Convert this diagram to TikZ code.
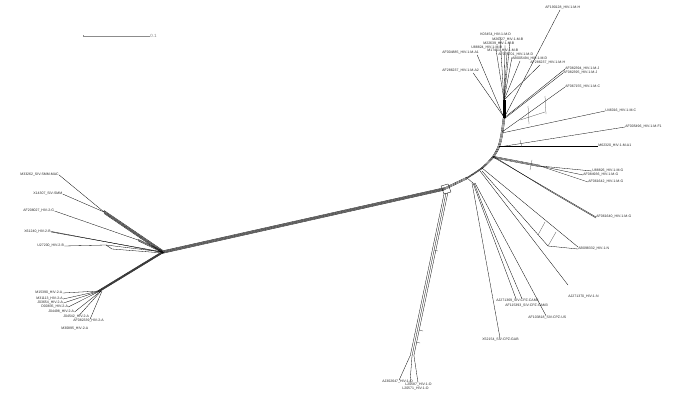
\documentclass[tikz,border=0pt]{standalone}
\usepackage{fontspec}
\setmainfont{Liberation Sans}
\begin{document}
\begin{tikzpicture}[x=1pt,y=-1pt,
  lab/.style={inner sep=0.2pt, font=\fontsize{3.5}{3.7}\selectfont, text=black!85},
  br/.style={line width=0.3pt, draw=black},
  rung/.style={line width=0.25pt, draw=black!75},
]
\useasboundingbox (0,0) rectangle (685,420);

% ---------- scale bar ----------
\coordinate (sbA) at (83,36);
\coordinate (sbB) at (150,36);
\draw[line width=0.4pt, black!45] (sbA) -- (sbB);
\draw[line width=0.4pt, black!45] ([yshift=-1pt]sbA) -- ([yshift=1pt]sbA);
\node[lab, anchor=west, text=black!50, font=\fontsize{4.5}{5}\selectfont] (sbl) at (150,36) {0.1};

% ---------- labels ----------
% left upper
\node[lab, anchor=west] (L1) at (20,175) {M33262\_SIV-SMM-MAC};
\node[lab, anchor=west] (L2) at (33,194) {X14307\_SIV-SMM};
\node[lab, anchor=west] (L3) at (23,211) {AF208027\_HIV-2-G};
\node[lab, anchor=west] (L4) at (24,232) {X61240\_HIV-2-B};
\node[lab, anchor=west] (L5) at (37,246) {U27200\_HIV-2-B};
% left lower (HIV-2 A)
\node[lab, anchor=west] (A1) at (35,293) {M15390\_HIV-2-A};
\node[lab, anchor=west] (A2) at (36,299) {M31113\_HIV-2-A};
\node[lab, anchor=west] (A3) at (37,303) {J03654\_HIV-2-A};
\node[lab, anchor=west] (A4) at (41,307) {D00835\_HIV-2-A};
\node[lab, anchor=west] (A5) at (48,312) {J04498\_HIV-2-A};
\node[lab, anchor=west] (A6) at (63,317) {J04542\_HIV-2-A};
\node[lab, anchor=west] (A7) at (73,321) {AF082339\_HIV-2-A};
\node[lab, anchor=west] (A8) at (61,329) {M30895\_HIV-2-A};
% group O
\node[lab, anchor=west] (O1) at (382,382) {AJ302647\_HIV-1-O};
\node[lab, anchor=west] (O2) at (405,384.5) {L20587\_HIV-1-O};
\node[lab, anchor=west] (O3) at (402,388.5) {L20571\_HIV-1-O};
% top (HIV-1 M)
\node[lab, anchor=west] (T0) at (545,8) {AF190128\_HIV-1-M-H};
\node[lab, anchor=west] (T1) at (480,35) {K03454\_HIV-1-M-D};
\node[lab, anchor=west] (T2) at (492,39.5) {M26727\_HIV-1-M-B};
\node[lab, anchor=west] (T3) at (483,43.5) {M22639\_HIV-1-M-B};
\node[lab, anchor=west] (T4) at (471,47.5) {U88824\_HIV-1-M-D};
\node[lab, anchor=west] (T5) at (487,51) {M17451\_HIV-1-M-B};
\node[lab, anchor=west] (T6) at (498,55) {AF075701\_HIV-1-M-D};
\node[lab, anchor=west] (T7) at (512,59) {AB005494\_HIV-1-M-D};
\node[lab, anchor=west] (T8) at (530,63) {AF286237\_HIV-1-M-H};
\node[lab, anchor=west] (T9) at (442,53) {AF004885\_HIV-1-M-A1};
\node[lab, anchor=west] (T10) at (442,71) {AF286237\_HIV-1-M-A2};
% right
\node[lab, anchor=west] (R1) at (565,69) {AF082394\_HIV-1-M-J};
\node[lab, anchor=west] (R2) at (563,73) {AF082395\_HIV-1-M-J};
\node[lab, anchor=west] (R3) at (565,87) {AF067155\_HIV-1-M-C};
\node[lab, anchor=west] (R4) at (605,111) {U46016\_HIV-1-M-C};
\node[lab, anchor=west] (R5) at (625,127) {AF005496\_HIV-1-M-F1};
\node[lab, anchor=west] (R6) at (598,146) {M62320\_HIV-1-M-A1};
\node[lab, anchor=west] (R7) at (592,171) {U88826\_HIV-1-M-G};
\node[lab, anchor=west] (R8) at (583,175) {AF084936\_HIV-1-M-G};
\node[lab, anchor=west] (R9) at (588,182) {AF061642\_HIV-1-M-G};
\node[lab, anchor=west] (R10) at (596,217) {AF061640\_HIV-1-M-G};
\node[lab, anchor=west] (R11) at (578,249) {AB098332\_HIV-1-N};
\node[lab, anchor=west] (R12) at (568,297) {AJ271370\_HIV-1-N};
% SIV-CPZ
\node[lab, anchor=west] (C1) at (496,300.7) {AJ271369\_SIV-CPZ-CAM5};
\node[lab, anchor=west] (C2) at (505,305.7) {AF115393\_SIV-CPZ-CAM3};
\node[lab, anchor=west] (C3) at (528,317.7) {AF103818\_SIV-CPZ-US};
\node[lab, anchor=west] (C4) at (482,340) {X52154\_SIV-CPZ-GAB};

% ---------- internal points ----------
\coordinate (hL) at (163,252);
\coordinate (cJ) at (444,189);
\coordinate (s1) at (104,212);
\coordinate (s2) at (138,240);
\coordinate (aJ) at (99,291);
\coordinate (m1) at (467,178);
\coordinate (m2) at (482,168);
\coordinate (m3) at (493,157);
\coordinate (m4) at (499,146);
\coordinate (m5) at (502,133);
\coordinate (m6) at (504,118);
\coordinate (cz) at (473,183);

% ---------- left upper ----------
\draw[br] (L1.east) -- (s1);
\draw[br] (L2.east) -- (s1);
\foreach \d in {-1.5,-0.7,0,0.8,1.6}
  \draw[br] ([yshift=\d pt]s1) -- ([yshift=\d pt]hL);
\draw[br] (L3.east) -- (s2);
\foreach \d in {-0.8,0,0.8}
  \draw[br] ([yshift=\d pt]s2) -- ([yshift=\d pt]hL);
\draw[br] (L4.east) -- (hL);
\draw[br] ([yshift=0.6pt]L4.east) -- ([xshift=-3pt]hL);
\draw[br] (L5.east) -- (106,245) -- (hL);
\draw[br] (106,245) -- (112,249) -- ([yshift=-1pt]hL);

% ---------- left lower ----------
\foreach \d in {-1.6,-0.8,0,0.8,1.6}
  \draw[br] ([xshift=\d pt]hL) -- ([xshift=\d pt]aJ);
\draw[br] (A1.east) -- (aJ);
\draw[br] (A2.east) -- (aJ);
\draw[br] (A3.east) -- ([xshift=1pt]aJ);
\draw[br] (A4.east) -- ([xshift=1pt]aJ);
\draw[br] (A5.east) -- ([xshift=2pt]aJ);
\draw[br] ([xshift=-10pt]A6.north east) -- ([xshift=2pt]aJ);
\draw[br] ([xshift=-14pt]A7.north east) -- ([xshift=3pt]aJ);

% ---------- long bundle ----------
\foreach \d in {-1.3,-0.65,0,0.65,1.3}
  \draw[line width=0.35pt] ([yshift=\d pt]hL) -- ([yshift=\d pt]cJ);
\draw[br] (441,186) -- (448,184) -- (451,192) -- (444,194) -- cycle;
\foreach \d in {-1,0,1}
  \draw[br] ([yshift=\d pt]cJ) -- ([yshift=\d pt]m1);

% ---------- group O ----------
\coordinate (o1) at (446,193);
\coordinate (o2) at (412,356);
\foreach \d in {-1.8,0,1.8}
  \draw[br] ([xshift=\d pt]o1) -- ([xshift=\d pt]o2);
\draw[rung] (434,250) -- (438,251);
\draw[rung] (419,330) -- (423,331);
\draw[rung] (416,342) -- (420,343);
\draw[br] ([xshift=-2pt]o2) -- ([xshift=-14pt]O1.north east);
\draw[br] (o2) -- ([xshift=5pt]O2.north west);
\draw[br] ([xshift=2pt]o2) -- ([xshift=13pt]O2.north west);

% ---------- HIV-1 M arc ----------
\foreach \d in {-1,0,1}
  \draw[br] plot[smooth] coordinates {([xshift=\d pt]m1) ([xshift=\d pt]m2) ([xshift=\d pt]m3) ([xshift=\d pt]m4) ([xshift=\d pt]m5) ([xshift=\d pt]m6)};

% ---------- SIV-CPZ ----------
\draw[br] (m1) -- (cz);
\draw[br] (cz) -- (489,226) -- ([xshift=20pt]C1.north west);
\draw[br] ([xshift=1pt]cz) -- (491,226) -- ([xshift=26pt]C1.north west);
\draw[br] ([xshift=2pt]cz) -- ([xshift=18pt]C3.north west);
\draw[br] ([xshift=-1pt]cz) -- ([xshift=18pt]C4.north west);

% ---------- HIV-1 N ----------
\draw[br] (m2) -- ([yshift=2pt]R11.west);
\draw[br] ([yshift=-3pt]m2) -- (548,246) -- (R11.west);
\draw[rung] (548,246) -- (556,232);
\draw[rung] (538,235) -- (545,222);
\draw[br] ([xshift=-2pt,yshift=-3pt]m2) -- ([yshift=10pt]R12.north west);

% ---------- HIV-1 M rays ----------
\foreach \d in {-0.8,0,0.8}
  \draw[br] ([yshift=\d pt]m3) -- ([yshift=\d pt]540,166);
\draw[br] (540,166) -- (R7.west);
\draw[br] (540,166) -- (R8.west);
\draw[br] (540,166) -- (R9.west);
\draw[rung] (532,160) -- (530,170);
\draw[br] (m3) -- (R10.west);
\draw[br] ([yshift=1pt]m3) -- (548,190) -- ([yshift=-1pt]R10.west);
\draw[br] (m4) -- (R6.west);
\draw[br] ([yshift=-1pt]m4) -- (R5.west);
\draw[rung] (520,140) -- (522,147);
\draw[br] (m5) -- (R4.west);
\draw[br] ([yshift=1pt]m5) -- (R3.west);
\draw[rung] (528,106) -- (529,124);
\draw[rung] (545,96) -- (546,114);
\draw[rung] (520,120) -- (545,112);
\draw[br] (m6) -- (R1.west);
\draw[br] ([yshift=-1pt]m6) -- (R2.west);
\draw[br] (m6) -- ([xshift=15pt]T0.south west);
\coordinate (tk) at (504,100);
\foreach \d in {-0.8,0,0.8}
  \draw[br] ([xshift=\d pt]m6) -- ([xshift=\d pt]tk);
\draw[br] (tk) -- ([xshift=20pt]T1.south west);
\draw[br] (tk) -- ([xshift=18pt]T2.south west);
\draw[br] (tk) -- ([xshift=22pt]T3.south west);
\draw[br] (tk) -- ([xshift=25pt]T4.south west);
\draw[br] (tk) -- ([xshift=20pt]T5.south west);
\draw[br] (tk) -- ([xshift=14pt]T6.south west);
\draw[br] (tk) -- ([xshift=8pt]T7.south west);
\draw[br] (tk) -- ([xshift=10pt]T8.south west);
\draw[br] (m6) -- ([xshift=-2pt]T9.south east);
\draw[br] ([yshift=1pt]m6) -- ([xshift=-6pt]T10.south east);
\end{tikzpicture}
\end{document}
